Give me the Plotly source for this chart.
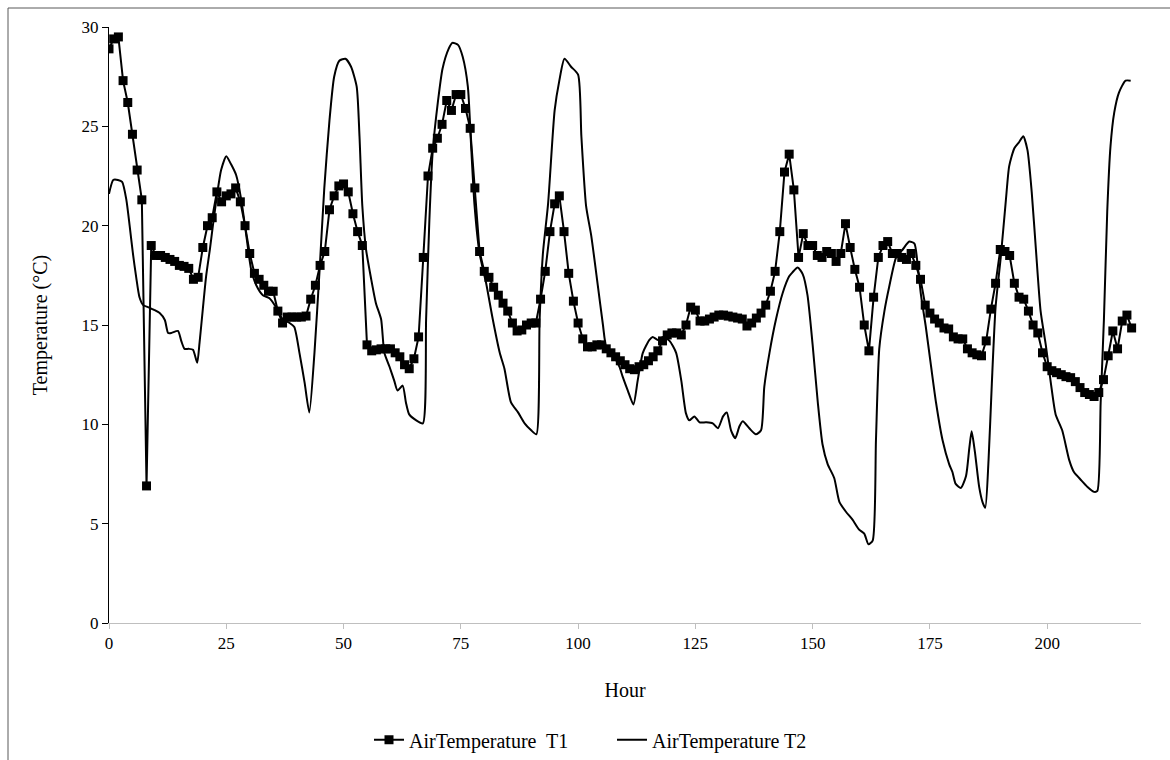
import plotly.graph_objects as go

# ---------------- data ----------------
t1_hours = list(range(0, 219))
t1_temp = [
    28.9, 29.4, 29.5, 27.3, 26.2, 24.6, 22.8, 21.3, 6.9, 19.0,      # 0-9
    18.5, 18.5, 18.4, 18.3, 18.2, 18.0, 17.95, 17.85, 17.3, 17.4,   # 10-19
    18.9, 20.0, 20.4, 21.7, 21.2, 21.5, 21.6, 21.9, 21.2, 20.0,     # 20-29
    18.6, 17.6, 17.3, 17.0, 16.7, 16.7, 15.7, 15.1, 15.4, 15.4,     # 30-39
    15.4, 15.4, 15.45, 16.3, 17.0, 18.0, 18.7, 20.8, 21.5, 22.0,    # 40-49
    22.1, 21.7, 20.6, 19.7, 19.0, 14.0, 13.7, 13.75, 13.8, 13.8,    # 50-59
    13.8, 13.6, 13.4, 13.0, 12.8, 13.3, 14.4, 18.4, 22.5, 23.9,     # 60-69
    24.4, 25.1, 26.3, 25.8, 26.6, 26.6, 25.9, 24.9, 21.9, 18.7,     # 70-79
    17.7, 17.4, 16.9, 16.5, 16.1, 15.7, 15.1, 14.7, 14.75, 15.0,    # 80-89
    15.1, 15.1, 16.3, 17.7, 19.7, 21.1, 21.5, 19.7, 17.6, 16.2,     # 90-99
    15.1, 14.3, 13.9, 13.9, 14.0, 14.0, 13.8, 13.6, 13.4, 13.2,     # 100-109
    13.0, 12.8, 12.75, 12.9, 13.0, 13.2, 13.4, 13.7, 14.2, 14.5,    # 110-119
    14.6, 14.6, 14.5, 15.0, 15.9, 15.75, 15.2, 15.2, 15.3, 15.4,    # 120-129
    15.5, 15.5, 15.45, 15.4, 15.35, 15.3, 14.95, 15.1, 15.35, 15.6, # 130-139
    16.0, 16.7, 17.7, 19.7, 22.7, 23.6, 21.8, 18.4, 19.6, 19.0,     # 140-149
    19.0, 18.5, 18.4, 18.7, 18.6, 18.2, 18.6, 20.1, 18.9, 17.8,     # 150-159
    16.9, 15.0, 13.7, 16.4, 18.4, 19.0, 19.2, 18.6, 18.6, 18.4,     # 160-169
    18.3, 18.6, 18.0, 17.3, 16.0, 15.6, 15.3, 15.1, 14.85, 14.8,    # 170-179
    14.4, 14.3, 14.3, 13.8, 13.6, 13.5, 13.45, 14.2, 15.8, 17.1,    # 180-189
    18.8, 18.7, 18.5, 17.1, 16.4, 16.3, 15.7, 15.0, 14.6, 13.6,     # 190-199
    12.9, 12.7, 12.6, 12.5, 12.4, 12.35, 12.15, 11.85, 11.6, 11.5,  # 200-209
    11.4, 11.6, 12.25, 13.45, 14.7, 13.8, 15.2, 15.5, 14.85,        # 210-218
]

t2_hours = [
    0, 0.9, 1.9, 2.8, 3.7, 4.4, 5.1, 5.8, 6.5, 7.3, 8.3, 9.7, 10.8, 11.9, 12.6, 13.3,
    14.7, 15.4, 16.1, 17.0, 17.9, 18.8, 19.3, 20.0, 20.7, 21.5, 22.2, 23.0, 23.9, 25.0,
    26.0, 27.1, 28.2, 29.3, 30.3, 31.4, 32.8, 34.2, 35.6, 37.0, 38.5, 39.5, 40.6, 41.7,
    42.7, 43.8, 44.9, 45.9, 47.0, 48.0, 49.1, 50.4, 51.6, 52.8, 53.4, 54.0, 54.8, 55.9,
    56.9, 58.0, 58.7, 59.8, 60.8, 61.5, 62.6, 63.3, 64.0, 65.5, 66.9, 67.6, 68.3, 69.0,
    70.1, 71.1, 72.4, 73.2, 74.4, 75.4, 76.5, 77.2, 77.9, 79.0, 80.4, 81.8, 83.3, 84.3,
    85.7, 87.2, 88.6, 90.0, 91.1, 91.8, 92.5, 93.6, 95.0, 96.0, 97.1, 98.5, 100.0, 100.7,
    101.7, 102.8, 104.2, 105.3, 106.0, 107.4, 108.8, 109.5, 110.6, 111.8, 112.7, 113.8,
    115.2, 115.9, 117.0, 118.1, 119.5, 120.9, 122.0, 123.0, 123.7, 124.8, 125.9, 127.3,
    128.7, 129.8, 130.9, 131.7, 132.6, 133.5, 134.4, 135.1, 136.5, 137.9, 139.0, 139.7,
    140.8, 142.2, 143.6, 145.0, 145.7, 146.8, 147.9, 148.9, 150.0, 151.1, 152.1, 153.2,
    154.6, 155.7, 157.1, 158.5, 159.9, 161.0, 161.9, 162.8, 163.5, 164.2, 165.3, 166.3,
    167.8, 169.2, 170.6, 171.7, 172.4, 173.1, 174.1, 175.2, 176.3, 177.7, 179.1, 179.8,
    180.5, 181.6, 182.7, 183.4, 183.9, 184.6, 185.5, 186.2, 186.8, 187.5, 188.2, 189.0,
    190.1, 191.2, 191.9, 193.0, 194.0, 194.9, 195.8, 196.7, 197.6, 198.6, 199.7, 200.8,
    201.8, 203.2, 204.7, 205.7, 207.2, 208.6, 210.0, 210.7, 211.4, 212.1, 212.8, 213.5,
    214.3, 215.3, 216.7, 217.8,
]
t2_temp = [
    21.6, 22.3, 22.3, 22.2, 21.3, 20.0, 18.6, 17.4, 16.4, 16.0, 15.9, 15.75, 15.6, 15.25, 14.6, 14.6,
    14.7, 14.2, 13.8, 13.8, 13.75, 13.1, 14.1, 15.8, 17.45, 18.8, 20.1, 21.5, 22.8, 23.5,
    23.1, 22.55, 21.3, 19.45, 17.8, 17.0, 16.5, 16.35, 15.9, 15.3, 15.1, 14.9, 13.6, 12.1,
    10.6, 13.6, 17.8, 21.9, 25.3, 27.5, 28.3, 28.4, 28.0, 27.0, 24.5, 21.0, 18.8, 17.3,
    16.1, 15.3, 13.6, 12.9, 12.2, 11.7, 11.95, 11.1, 10.5, 10.2, 10.05, 15.3, 20.3, 23.7,
    26.2, 27.9, 28.9, 29.2, 29.1, 28.5, 27.0, 24.0, 21.1, 18.6, 17.1, 15.3, 13.6, 12.8,
    11.1, 10.6, 10.05, 9.7, 9.5, 15.3, 18.6, 21.1, 25.8, 27.3, 28.4, 28.0, 27.6, 24.5,
    21.0, 19.5, 17.0, 15.0, 13.9, 13.5, 12.9, 12.4, 11.7, 11.0, 12.2, 13.6,
    14.25, 14.4, 14.25, 14.4, 14.2, 13.6, 12.2, 10.55, 10.2, 10.4, 10.1, 10.1,
    10.05, 9.8, 10.4, 10.6, 9.7, 9.3, 9.9, 10.15, 9.8, 9.5, 9.7, 11.9,
    13.6, 15.3, 16.6, 17.45, 17.65, 17.9, 17.55, 16.5, 14.0, 11.1, 9.0, 8.0,
    7.3, 6.1, 5.6, 5.2, 4.7, 4.5, 3.96, 4.15, 9.2, 13.8, 15.7, 16.9,
    18.4, 18.8, 19.2, 19.1, 18.0, 16.5, 14.95, 13.0, 11.1, 9.2, 8.0, 7.6,
    7.0, 6.8, 7.4, 8.8, 9.65, 8.6, 6.85, 6.1, 5.8, 8.2, 12.05, 15.9,
    18.4, 21.3, 23.0, 23.9, 24.2, 24.5, 23.8, 21.7, 18.8, 15.7, 14.0, 12.05,
    10.5, 9.7, 8.2, 7.6, 7.2, 6.85, 6.6, 6.65, 11.1, 15.3, 20.7, 24.0,
    25.7, 26.7, 27.3, 27.3,
]

x_ticks = [0, 25, 50, 75, 100, 125, 150, 175, 200]
y_ticks = [0, 5, 10, 15, 20, 25, 30]

FONT = "Liberation Serif"

fig = go.Figure()
fig.add_trace(go.Scatter(
    x=t1_hours, y=t1_temp, mode="lines+markers",
    name="AirTemperature  T1",
    line=dict(color="black", width=2),
    marker=dict(symbol="square", size=9, color="black"),
))
fig.add_trace(go.Scatter(
    x=t2_hours, y=t2_temp, mode="lines",
    name="AirTemperature T2",
    line=dict(color="black", width=2, shape="spline", smoothing=0.6),
))

fig.update_layout(
    width=1170, height=760,
    margin=dict(l=109, r=29, t=27, b=137, autoexpand=False),
    paper_bgcolor="white", plot_bgcolor="white",
    font=dict(family=FONT, color="black", size=17),
    showlegend=True,
    legend=dict(orientation="h", x=(369 - 109) / 1032, xanchor="left",
                y=-0.196, yanchor="middle",
                font=dict(size=20, family=FONT), itemwidth=30,
                entrywidth=198, entrywidthmode="pixels",
                bgcolor="rgba(0,0,0,0)"),
    xaxis=dict(range=[0, 220], tickvals=x_ticks, ticks="outside", ticklen=5,
               tickcolor="#BFBFBF", showline=True, linecolor="#BFBFBF", linewidth=1,
               showgrid=False, zeroline=False, tickfont=dict(size=17, family=FONT),
               title=dict(text="Hour", font=dict(size=20, family=FONT), standoff=30)),
    yaxis=dict(range=[0, 30], tickvals=y_ticks, ticks="outside", ticklen=6,
               tickcolor="black", showline=True, linecolor="black", linewidth=1,
               showgrid=False, zeroline=False, tickfont=dict(size=17, family=FONT),
               title=dict(text="Temperature (°C)", font=dict(size=20, family=FONT), standoff=28)),
    shapes=[dict(type="rect", xref="paper", yref="paper",
                 x0=(8 - 109) / 1032, x1=(1180 - 109) / 1032,
                 y0=(623 - 775) / 596, y1=(623 - 8) / 596,
                 line=dict(color="#595959", width=1), layer="below")],
)

fig.write_html("out.html")
